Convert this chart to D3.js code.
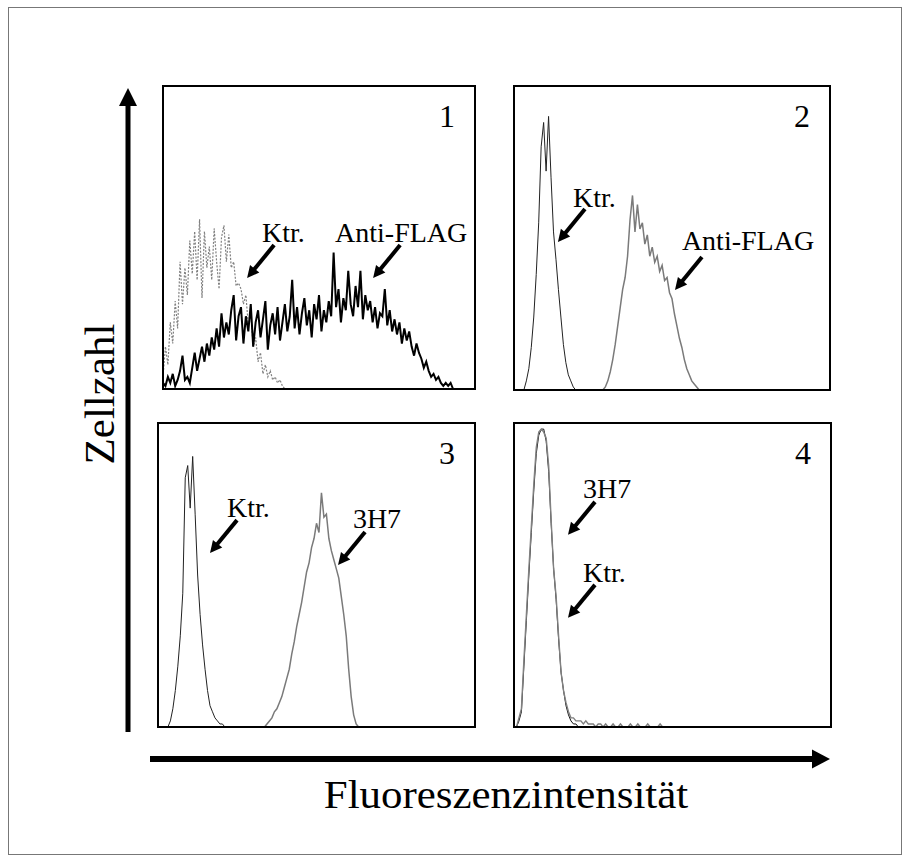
<!DOCTYPE html>
<html>
<head>
<meta charset="utf-8">
<script src="https://cdn.jsdelivr.net/npm/d3@7"></script>
<style>
    body { margin: 0; background: #fff; }
    svg text { font-family: "Liberation Serif", "Times New Roman", serif; fill: #000; }
</style>
</head>
<body>
<div id="chart"></div>
<script>
// histogram counts (0..100 = panel height), channel = first bin + index, 128 bins per panel
const binCount = 128;

const p1KtrStart = 0;
const p1Ktr = [4, 14, 8, 22, 15, 29, 20, 42, 28, 40, 31, 49, 38, 52, 36, 56, 30, 52, 40, 47,
    36, 53, 42, 33, 50, 54, 42, 51, 40, 42, 34, 35, 33, 28, 31, 21, 25, 14, 17, 9,
    12, 5, 8, 4, 6, 3, 4, 2, 3, 1, 0];

const p1FlagStart = 0;
const p1Flag = [2, 1, 4, 2, 5, 1, 3, 6, 11, 3, 4, 2, 7, 12, 6, 10, 14, 9, 15, 11,
    17, 13, 20, 14, 25, 17, 22, 18, 26, 31, 16, 24, 27, 15, 24, 19, 28, 14, 22, 26,
    17, 23, 29, 13, 21, 25, 18, 27, 16, 22, 28, 19, 24, 36, 20, 27, 18, 25, 30, 21,
    26, 17, 28, 23, 31, 19, 26, 22, 29, 24, 45, 27, 33, 22, 30, 26, 39, 28, 24, 34,
    27, 39, 23, 31, 26, 29, 22, 27, 20, 25, 24, 33, 21, 26, 19, 23, 18, 22, 15, 20,
    16, 19, 14, 11, 15, 12, 10, 7, 9, 6, 4, 5, 3, 4, 2, 1, 2, 1, 2, 0];

const p2KtrStart = 4;
const p2Ktr = [0, 3, 7, 14, 24, 38, 55, 80, 88, 72, 90, 70, 52, 43, 33, 24, 15, 9, 5, 3, 1, 0];

const p2FlagStart = 36;
const p2Flag = [0, 1, 3, 6, 10, 15, 21, 27, 33, 37, 44, 56, 64, 52, 61, 53, 55, 48, 51, 44,
    47, 42, 44, 39, 41, 36, 37, 32, 30, 25, 21, 17, 14, 10, 7, 5, 3, 2, 1, 0];

const p3KtrStart = 4;
const p3Ktr = [0, 2, 6, 12, 20, 30, 44, 82, 86, 72, 89, 70, 50, 37, 27, 19, 12, 7, 5, 3, 2, 1, 1, 0];

const p3H7Start = 43;
const p3H7 = [0, 1, 2, 3, 5, 6, 8, 10, 13, 16, 19, 24, 28, 33, 37, 41, 46, 51, 54, 59,
    62, 67, 64, 77, 69, 70, 62, 58, 55, 52, 49, 43, 37, 30, 19, 10, 4, 1, 0];

const p4KtrStart = 1;
const p4Ktr = [0, 2, 5, 20, 35, 50, 64, 78, 90, 96, 98, 98, 94, 84, 67, 52, 42, 29, 18, 12,
    7, 4, 2, 1, 1, 0];

const p4H7Start = 1;
const p4H7 = [0, 3, 6, 22, 37, 52, 66, 80, 92, 97, 98, 97, 95, 86, 68, 52, 43, 30, 18, 12,
    8, 5, 3, 3, 2, 2, 2, 1, 2, 1, 1, 1, 0, 1, 1, 0, 1, 0, 0, 1, 0, 0, 1, 0, 0, 0, 1, 0,
    0, 1, 0, 0, 0, 1, 0, 0, 0, 0, 1, 0];

const panelNames = ["1", "2", "3", "4"];
const yTitle = "Zellzahl";
const xTitle = "Fluoreszenzintensität";

// annotations in data units: [label, textBin, textCount, tipBin, tipCount]
const p1Notes = [["Ktr.", 40.6, 48.5, 34.5, 36.6], ["Anti-FLAG", 70.6, 48.5, 86.2, 36.6]];
const p2Notes = [["Ktr.", 23.9, 60.2, 17.8, 48.7], ["Anti-FLAG", 68, 46, 65.2, 32.9]];
const p3Notes = [["Ktr.", 27.9, 69.1, 21, 57.2], ["3H7", 78.7, 65.5, 72.7, 53.3]];
const p4Notes = [["3H7", 27.9, 75.3, 21.8, 63.2], ["Ktr.", 27.9, 47.7, 21.8, 35.9]];

const W = 910, H = 861;

const svg = d3.select("#chart").append("svg")
    .attr("width", W)
    .attr("height", H);

// outer frame
svg.append("rect")
    .attr("x", 8.5).attr("y", 7.5)
    .attr("width", 893).attr("height", 847)
    .style("fill", "none")
    .style("stroke", "#777")
    .style("stroke-width", 1);

function arrow(g, x1, y1, x2, y2, w, headLen, headW) {
    let dx = x2 - x1, dy = y2 - y1;
    let len = Math.sqrt(dx * dx + dy * dy);
    let ux = dx / len, uy = dy / len;
    let bx = x2 - ux * headLen, by = y2 - uy * headLen;
    g.append("line")
        .attr("x1", x1).attr("y1", y1)
        .attr("x2", bx + ux).attr("y2", by + uy)
        .style("stroke", "#000")
        .style("stroke-width", w);
    g.append("path")
        .attr("d", "M" + x2 + "," + y2 +
            "L" + (bx - uy * headW) + "," + (by + ux * headW) +
            "L" + (bx + uy * headW) + "," + (by - ux * headW) + "Z")
        .style("fill", "#000");
}

const panels = [
    {name: panelNames[0], x0: 163, x1: 475, y0: 86, y1: 389, notes: p1Notes,
        series: [
            {start: p1KtrStart, values: p1Ktr, color: "#808080", width: 1.2, dash: "2,1.5"},
            {start: p1FlagStart, values: p1Flag, color: "#000", width: 2}
        ]},
    {name: panelNames[1], x0: 514, x1: 830, y0: 86, y1: 390, notes: p2Notes,
        series: [
            {start: p2KtrStart, values: p2Ktr, color: "#222", width: 1},
            {start: p2FlagStart, values: p2Flag, color: "#7a7a7a", width: 1.5}
        ]},
    {name: panelNames[2], x0: 158, x1: 475, y0: 423, y1: 727, notes: p3Notes,
        series: [
            {start: p3KtrStart, values: p3Ktr, color: "#222", width: 1},
            {start: p3H7Start, values: p3H7, color: "#7a7a7a", width: 1.5}
        ]},
    {name: panelNames[3], x0: 514, x1: 831, y0: 423, y1: 727, notes: p4Notes,
        series: [
            {start: p4KtrStart, values: p4Ktr, color: "#111", width: 1},
            {start: p4H7Start, values: p4H7, color: "#808080", width: 1.4}
        ]}
];

panels.forEach(function (p) {
    let x = d3.scaleLinear().domain([0, binCount]).range([p.x0, p.x1]);
    let y = d3.scaleLinear().domain([0, 100]).range([p.y1, p.y0]);
    let g = svg.append("g");

    let line = d3.line()
        .x(function (d) { return x(d.bin); })
        .y(function (d) { return y(d.count); });

    p.series.forEach(function (s) {
        let pts = s.values.map(function (v, i) { return {bin: s.start + i, count: v}; });
        g.append("path")
            .datum(pts)
            .attr("d", line)
            .style("fill", "none")
            .style("stroke", s.color)
            .style("stroke-width", s.width)
            .style("stroke-dasharray", s.dash || null)
            .style("stroke-linejoin", "miter");
    });

    g.append("rect")
        .attr("x", p.x0).attr("y", p.y0)
        .attr("width", p.x1 - p.x0).attr("height", p.y1 - p.y0)
        .style("fill", "none")
        .style("stroke", "#000")
        .style("stroke-width", 2);

    g.append("text")
        .attr("x", p.x1 - 20)
        .attr("y", p.y0 + 41)
        .attr("text-anchor", "end")
        .style("font-size", "32px")
        .text(p.name);

    p.notes.forEach(function (n) {
        g.append("text")
            .attr("x", x(n[1]))
            .attr("y", y(n[2]))
            .style("font-size", "28px")
            .text(n[0]);
        arrow(g, x(n[3]) + 27, y(n[4]) - 33, x(n[3]), y(n[4]), 4, 12, 6);
    });
});

// axis arrows
arrow(svg, 128, 732, 128, 88, 5, 18, 9);
arrow(svg, 150, 759, 830, 759, 6, 18, 9.5);

svg.append("text")
    .attr("transform", "translate(114,394) rotate(-90)")
    .attr("text-anchor", "middle")
    .style("font-size", "43px")
    .text(yTitle);

svg.append("text")
    .attr("transform", "translate(506,808) scale(1.1,1)")
    .attr("text-anchor", "middle")
    .style("font-size", "39px")
    .text(xTitle);
</script>
</body>
</html>
